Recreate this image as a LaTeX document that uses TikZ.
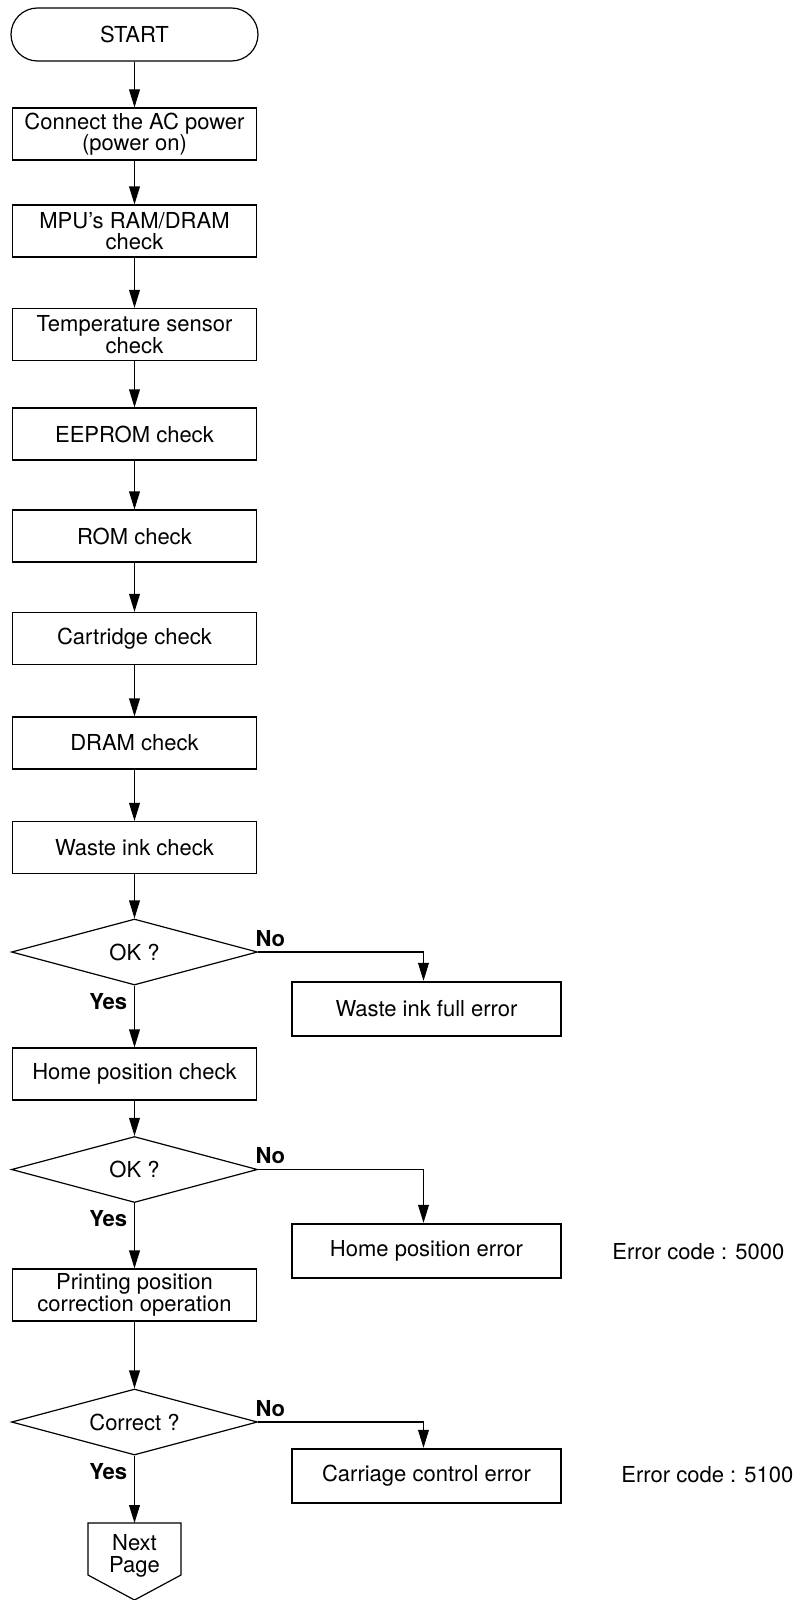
\documentclass[tikz,border=0pt]{standalone}
\usepackage{fontspec}
\setmainfont{TeX Gyre Heros}
\usetikzlibrary{arrows.meta,shapes.geometric,calc}
\begin{document}
\begin{tikzpicture}[x=0.5pt,y=-0.5pt,
  every node/.style={font=\fontsize{11pt}{10.8pt}\selectfont, align=center, inner sep=0pt},
  stepbox/.style={draw, line width=0.6pt, minimum width=122pt, minimum height=26pt},
  errbox/.style={draw, line width=1.2pt, minimum width=134.5pt, minimum height=27pt},
  decision/.style={draw, diamond, aspect=3.7, line width=0.6pt, minimum width=123pt, minimum height=33pt},
  term/.style={draw, rounded corners=13.25pt, line width=0.6pt, minimum width=123.5pt, minimum height=26.5pt},
  arr/.style={line width=0.6pt, -{Triangle[length=9pt,width=5.4pt]}},
  lbl/.style={font=\bfseries\fontsize{11pt}{11pt}\selectfont},
  codetext/.style={anchor=west}
]
\useasboundingbox (0,0) rectangle (812,1600);

\node[term] (start) at (134.5,34.5) {START};
\node[stepbox] (b1) at (134.5,134) {Connect the AC power\\(power on)};
\node[stepbox] (mpu) at (134.5,231) {MPU’s RAM/DRAM\\check};
\node[stepbox] (temp) at (134.5,334.5) {Temperature sensor\\check};
\node[stepbox] (eeprom) at (134.5,434) {EEPROM check};
\node[stepbox] (rom) at (134.5,536) {ROM check};
\node[stepbox] (cart) at (134.5,638.5) {Cartridge check};
\node[stepbox] (dram) at (134.5,743) {DRAM check};
\node[stepbox] (waste) at (134.5,847.5) {Waste ink check};
\node[decision] (d1) at (134.5,952) {OK ?};
\node[stepbox] (home) at (134.5,1074) {Home position check};
\node[decision] (d2) at (134.5,1169.5) {OK ?};
\node[stepbox] (print) at (134.5,1295) {Printing position\\correction operation};
\node[decision] (d3) at (134.5,1422) {Correct ?};

\node[errbox] (e1) at (426.5,1009) {Waste ink full error};
\node[errbox] (e2) at (426.5,1251) {Home position error};
\node[errbox] (e3) at (426.5,1476) {Carriage control error};
\node[codetext] (c1) at (612,1252) {Error code : 5000};
\node[codetext] (c2) at (621,1475) {Error code : 5100};

% Next page off-page connector
\coordinate (nptop) at (134.5,1523);
\draw[line width=0.6pt] (88,1523) -- (181,1523) -- (181,1575) -- (134.5,1600) -- (88,1575) -- cycle;
\node[font=\fontsize{11pt}{11pt}\selectfont] (np) at (134.5,1556) {Next\\Page};

% main flow
\draw[arr] (start) -- (b1);
\draw[arr] (b1) -- (mpu);
\draw[arr] (mpu) -- (temp);
\draw[arr] (temp) -- (eeprom);
\draw[arr] (eeprom) -- (rom);
\draw[arr] (rom) -- (cart);
\draw[arr] (cart) -- (dram);
\draw[arr] (dram) -- (waste);
\draw[arr] (waste) -- (d1);
\draw[arr] (d1) -- (home);
\draw[arr] (home) -- (d2);
\draw[arr] (d2) -- (print);
\draw[arr] (print) -- (d3);
\draw[arr] (d3) -- (nptop);

% No branches
\draw[arr] (d1.east) -| ([xshift=-1.5pt]e1.north);
\draw[arr] (d2.east) -| ([xshift=-1.5pt]e2.north);
\draw[arr] (d3.east) -| ([xshift=-1.5pt]e3.north);

% labels
\node[lbl, anchor=south west] (no1) at ([xshift=-1.5pt,yshift=2.5pt]d1.east) {No};
\node[lbl, anchor=south west] (no2) at ([xshift=-1.5pt,yshift=2.5pt]d2.east) {No};
\node[lbl, anchor=south west] (no3) at ([xshift=-1.5pt,yshift=2.5pt]d3.east) {No};
\node[lbl, anchor=north east] (yes1) at ([xshift=-3.5pt,yshift=-3.5pt]d1.south) {Yes};
\node[lbl, anchor=north east] (yes2) at ([xshift=-3.5pt,yshift=-3.5pt]d2.south) {Yes};
\node[lbl, anchor=north east] (yes3) at ([xshift=-3.5pt,yshift=-3.5pt]d3.south) {Yes};
\end{tikzpicture}
\end{document}
